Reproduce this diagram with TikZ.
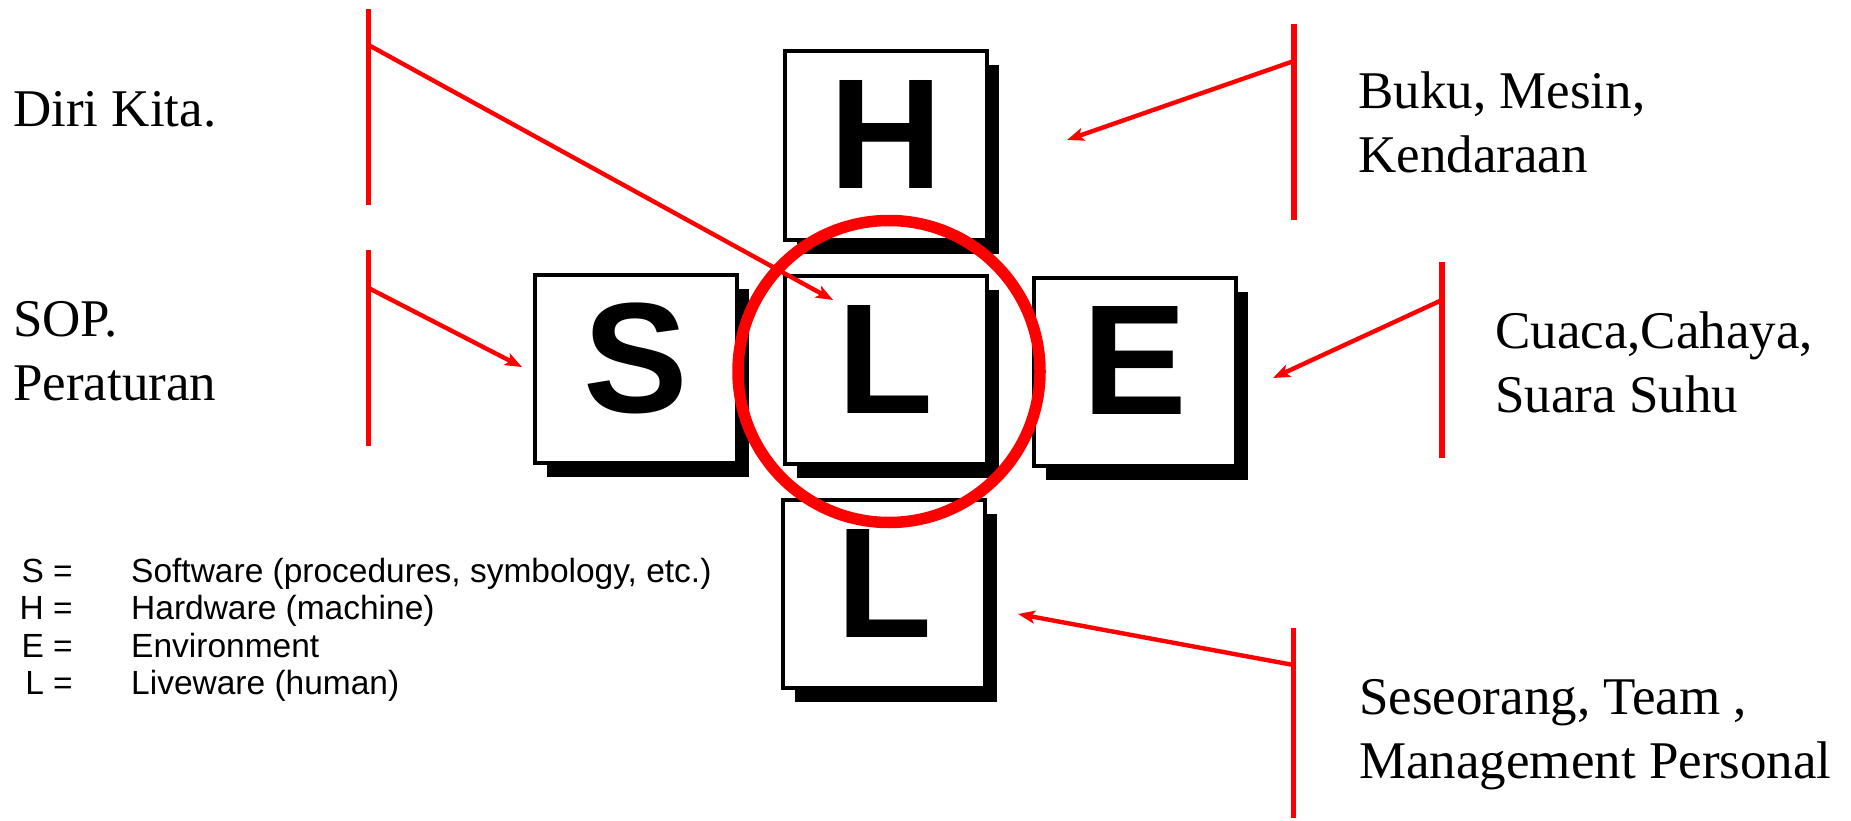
\documentclass[tikz,border=0pt]{standalone}
\usepackage{fontspec}
\setmainfont{Liberation Serif}
\newfontfamily\legendfont{Liberation Sans}
\usetikzlibrary{arrows.meta,shadows}
\definecolor{shelRed}{HTML}{FF0000}
\definecolor{shelInk}{HTML}{000000}

\begin{document}
\begin{tikzpicture}[x=1pt,y=-1pt,>=Latex,line join=miter]
\path[fill=white] (0,0) rectangle (1851,818);
\tikzset{tile/.style={draw=shelInk,fill=white,line width=4pt,minimum width=202pt,minimum height=188pt,inner sep=0pt,drop shadow={shadow xshift=12pt,shadow yshift=-14pt,fill=shelInk,opacity=1}},glyph/.style={font=\legendfont\bfseries\fontsize{157}{157}\selectfont,text=shelInk,inner sep=0pt},bar/.style={draw=shelRed,line width=5.7pt},pointer/.style={draw=shelRed,line width=4.4pt,-{Stealth[length=17pt,width=13pt,inset=4pt]}},ring/.style={draw=shelRed,line width=11.5pt,circle,minimum size=302pt,inner sep=0pt},note/.style={anchor=base west,align=left,font=\fontsize{53}{64}\selectfont,text=shelInk,inner sep=0pt},keytxt/.style={font=\legendfont\fontsize{33.5}{37}\selectfont,text=shelInk,inner sep=0pt}}
% SHEL tiles
\foreach \nm/\ch/\cx/\cy in {tileH/H/886/145.5,tileL/L/885.5/370,tileS/S/636/369,tileE/E/1135/371.5,tileB/L/884/594}{
  \node[tile] (\nm) at (\cx,\cy) {};
  \node[glyph] (\nm-ch) at ([yshift=11pt]\nm.center) {\ch};
}
\node[ring] (ring) at (889,371.5) {};
% bars and pointers
\coordinate (diriTop) at (368.5,9);
\coordinate (diriBot) at (368.5,205);
\coordinate (diriFoot) at (368.5,45);
\coordinate (diriTip) at (833,300);
\coordinate (sopTop) at (368.5,250);
\coordinate (sopBot) at (368.5,446);
\coordinate (sopFoot) at (368.5,288);
\coordinate (sopTip) at (522,367);
\coordinate (bukuTop) at (1294,24);
\coordinate (bukuBot) at (1294,220);
\coordinate (bukuFoot) at (1294,61);
\coordinate (bukuTip) at (1067,140);
\coordinate (cuacaTop) at (1442,262);
\coordinate (cuacaBot) at (1442,458);
\coordinate (cuacaFoot) at (1442,300);
\coordinate (cuacaTip) at (1273,378);
\coordinate (seseTop) at (1293.5,628);
\coordinate (seseBot) at (1293.5,818);
\coordinate (seseFoot) at (1293.5,665);
\coordinate (seseTip) at (1018,614);
\foreach \p in {diri,sop,buku,cuaca,sese}{
  \draw[bar] (\p Top) -- (\p Bot);
  \draw[pointer] (\p Foot) -- (\p Tip);
}
% notes (base = last line)
\node[note] (diri) at (13,127) {Diri Kita.};
\node[note] (sop) at (13,400) {SOP.\\Peraturan};
\node[note] (buku) at (1358,173) {Buku, Mesin,\\Kendaraan};
\node[note] (cuaca) at (1495,412) {Cuaca,Cahaya,\\Suara Suhu};
\node[note] (sese) at (1359,778) {Seseorang, Team ,\\Management Personal};
% legend
\foreach \k/\txt [count=\i] in {S/{Software (procedures, symbology, etc.)},H/{Hardware (machine)},E/Environment,L/{Liveware (human)}}{
  \node[keytxt,anchor=base east] (key\k) at (73,544.5+37.5*\i) {\k\ =};
  \node[keytxt,anchor=base west] (def\k) at (131,544.5+37.5*\i) {\txt};
}
\end{tikzpicture}
\end{document}
